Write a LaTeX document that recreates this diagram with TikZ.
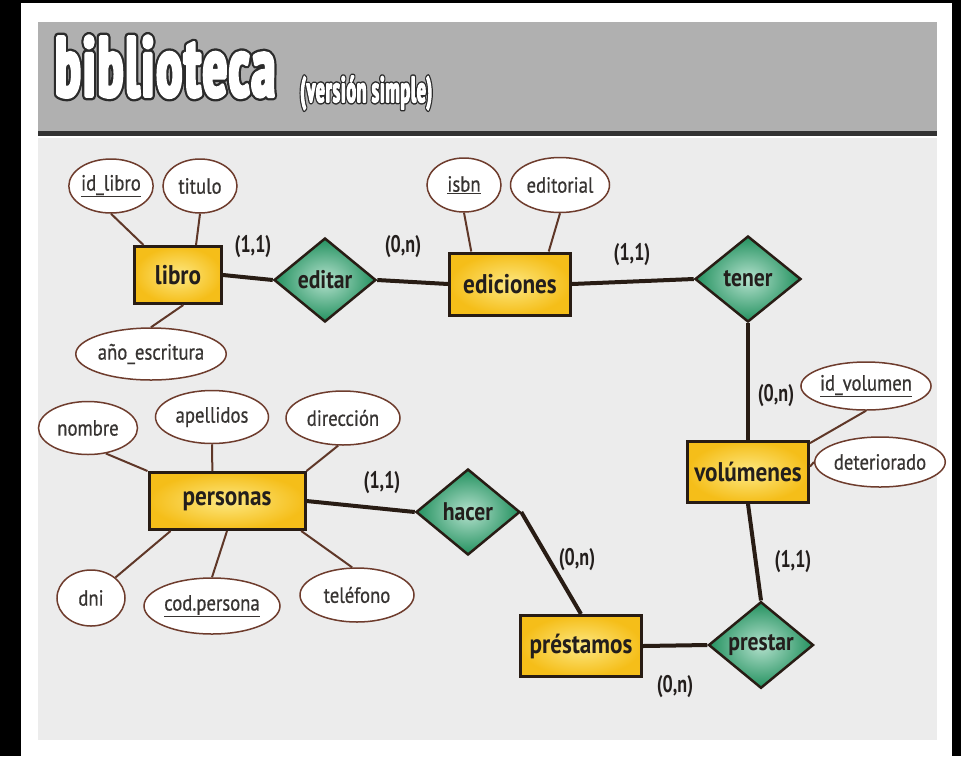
\documentclass[tikz,border=0pt]{standalone}
\usepackage{fontspec}
\setmainfont{PT Sans}[FakeStretch=0.8]
\newfontfamily\entfont{PT Sans}[FakeStretch=0.86]
\newfontfamily\relfont{PT Sans}[FakeStretch=0.85]
\newfontfamily\attfont{PT Sans}[FakeStretch=0.85,FakeBold=0.6]
\newfontfamily\cardfont{PT Sans}[FakeStretch=0.75]
\newfontfamily\ttlfont{PT Sans}[FakeStretch=0.62,LetterSpace=3]
\usepackage{graphicx}
\usetikzlibrary{shapes.geometric}
\definecolor{bord}{RGB}{40,28,20}
\definecolor{attrline}{RGB}{95,55,40}
\definecolor{ellb}{RGB}{110,60,45}
\definecolor{entA}{RGB}{245,190,25}
\definecolor{entB}{RGB}{253,232,130}
\definecolor{relA}{RGB}{35,145,95}
\definecolor{relB}{RGB}{180,225,205}
\definecolor{txt}{RGB}{35,30,28}
\definecolor{atxt}{RGB}{55,52,50}
\definecolor{hdr}{RGB}{176,176,176}
\definecolor{hdrline}{RGB}{50,50,50}
\definecolor{panel}{RGB}{236,236,236}
% outlined text: a dark stroked copy under a white (filled + white-stroked) copy
\newcommand{\outlined}[3]{%
  \rlap{\special{pdf:literal direct 0.17 0.17 0.17 RG #1 w 1 j 1 Tr}#3\special{pdf:literal direct 0 Tr}}%
  {\special{pdf:literal direct 1 1 1 RG #2 w 1 j 2 Tr}#3\special{pdf:literal direct 0 Tr}}}
\tikzset{
  entity/.style={rectangle, draw=bord, line width=3pt, inner color=entB, outer color=entA,
    inner sep=0pt, text=txt, font=\entfont\bfseries\fontsize{27}{27}\selectfont},
  rel/.style={diamond, draw=bord, line width=2.5pt, inner color=relB, outer color=relA,
    inner sep=0pt, text=txt, font=\relfont\bfseries\fontsize{25.5}{25.5}\selectfont},
  attr/.style={ellipse, draw=ellb, line width=1.5pt, fill=white, inner sep=0pt,
    text=atxt, font=\attfont\fontsize{22}{22}\selectfont},
  card/.style={inner sep=0pt, text=txt, font=\cardfont\bfseries\fontsize{24}{24}\selectfont},
  aline/.style={draw=attrline, line width=2pt},
  rline/.style={draw=bord, line width=4pt},
}
\begin{document}
\begin{tikzpicture}[x=1pt,y=-1pt]
\useasboundingbox (0,0) rectangle (961,756);
% frame and backgrounds
\fill[black] (0,0) rectangle (961,756);
\fill[white] (21,3) rectangle (952,756);
\fill[panel] (38,138) rectangle (937,740);
\fill[hdr] (38,22) rectangle (937,132);
\fill[hdrline] (38,131) rectangle (937,136);
% title
\node[anchor=base west, inner sep=0pt, text=white] (t1) at (55,96)
  {\resizebox{220pt}{60pt}{\ttlfont\bfseries\fontsize{88}{88}\selectfont\outlined{9}{4}{biblioteca}}};
\node[anchor=base west, inner sep=0pt, text=white] (t2) at (300,102)
  {\resizebox{132pt}{26pt}{\ttlfont\bfseries\fontsize{36}{36}\selectfont\outlined{4.5}{1.5}{(versión simple)}}};

% entities
\node[entity, minimum width=87pt, minimum height=57pt] (libro) at (178,275) {libro};
\node[entity, minimum width=121pt, minimum height=62pt] (ediciones) at (510,284) {ediciones};
\node[entity, minimum width=121pt, minimum height=61pt] (volumenes) at (748,472) {volúmenes};
\node[entity, minimum width=121pt, minimum height=61pt] (prestamos) at (581,646) {préstamos};
\node[entity, minimum width=156pt, minimum height=57pt] (personas) at (227,501) {personas};

% relationships
\node[rel, minimum width=102pt, minimum height=84pt] (editar) at (325,280) {editar};
\node[rel, minimum width=106pt, minimum height=86pt] (tener) at (748,279) {tener};
\node[rel, minimum width=104pt, minimum height=86pt] (hacer) at (468,512) {hacer};
\node[rel, minimum width=105pt, minimum height=83pt] (prestar) at (761,645) {prestar};

% attributes
\node[attr, minimum width=74pt, minimum height=54pt] (idlibro) at (111,186) {\underline{id\_libro}};
\node[attr, minimum width=74pt, minimum height=54pt] (titulo) at (200,186) {titulo};
\node[attr, minimum width=131pt, minimum height=52pt] (anio) at (151,354) {año\_escritura};
\node[attr, minimum width=74pt, minimum height=54pt] (isbn) at (464,185) {\underline{isbn}};
\node[attr, minimum width=99pt, minimum height=55pt] (editorial) at (560,185) {editorial};
\node[attr, minimum width=104pt, minimum height=48pt] (idvol) at (866,386) {\underline{id\_volumen}};
\node[attr, minimum width=113pt, minimum height=50pt] (deter) at (880,462) {deteriorado};
\node[attr, minimum width=99pt, minimum height=53pt] (nombre) at (88,428) {nombre};
\node[attr, minimum width=113pt, minimum height=53pt] (apellidos) at (212,417) {apellidos};
\node[attr, minimum width=114pt, minimum height=54pt] (direccion) at (343,418) {dirección};
\node[attr, minimum width=68pt, minimum height=56pt] (dni) at (91,598) {dni};
\node[attr, minimum width=136pt, minimum height=56pt] (codp) at (212,606) {\underline{cod.persona}};
\node[attr, minimum width=114pt, minimum height=54pt] (telefono) at (357,595) {teléfono};

% attribute connectors
\draw[aline] (idlibro.south) -- (libro.139);
\draw[aline] (titulo.south) -- (libro.59);
\draw[aline] (anio.north) -- (libro.-80);
\draw[aline] (isbn.south) -- (ediciones.140);
\draw[aline] (editorial.south) -- (ediciones.40);
\draw[aline] (idvol.south) -- (volumenes.25);
\draw[aline] (deter.west) -- (volumenes.5);
\draw[aline] (nombre.-55) -- (personas.north west);
\draw[aline] (apellidos.south) -- (personas.116);
\draw[aline] (direccion.260) -- (personas.north east);
\draw[aline] (dni.40) -- (personas.208);
\draw[aline] (codp.north) -- (personas.south);
\draw[aline] (telefono.100) -- (personas.-22);

% relationship connectors
\draw[rline] (libro.east) -- (editar.west);
\draw[rline] (editar.east) -- (ediciones.west);
\draw[rline] (ediciones.east) -- (tener.west);
\draw[rline] (tener.south) -- (volumenes.north);
\draw[rline] (volumenes.south) -- (prestar.north);
\draw[rline] (prestar.west) -- (prestamos.east);
\draw[rline] (personas.east) -- (hacer.west);
\draw[rline] (hacer.east) -- (prestamos.north);

% cardinalities
\node[card] (c1) at (253,247) {(1,1)};
\node[card] (c2) at (403,247) {(0,n)};
\node[card] (c3) at (632,255) {(1,1)};
\node[card] (c4) at (776,396) {(0,n)};
\node[card] (c5) at (793,562) {(1,1)};
\node[card] (c6) at (577,560) {(0,n)};
\node[card] (c7) at (675,687) {(0,n)};
\node[card] (c8) at (382,483) {(1,1)};
\end{tikzpicture}
\end{document}
